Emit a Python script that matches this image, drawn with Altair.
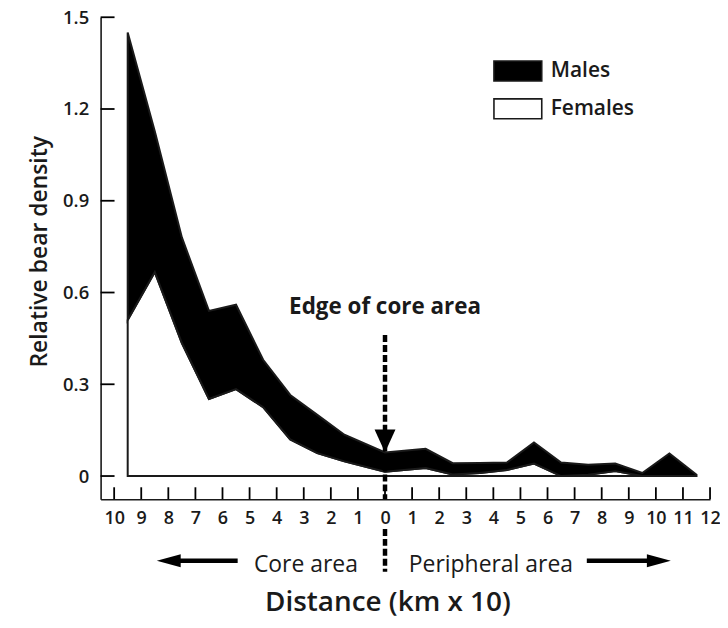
import altair as alt
import pandas as pd

# ---- data ----
distance = [-9.5, -8.5, -7.5, -6.5, -5.5, -4.5, -3.5, -2.5, -1.5, 0,
            1.5, 2.5, 3.5, 4.5, 5.5, 6.5, 7.5, 8.5, 9.5, 10.5, 11.5]
females = [0.51, 0.667, 0.435, 0.252, 0.284, 0.225, 0.12, 0.075, 0.048, 0.014,
           0.026, 0.005, 0.01, 0.02, 0.041, 0.0, 0.004, 0.016, 0.0, 0.0, 0.0]
males = [0.94, 0.46, 0.345, 0.288, 0.276, 0.155, 0.145, 0.125, 0.087, 0.063,
         0.063, 0.037, 0.033, 0.024, 0.069, 0.044, 0.033, 0.025, 0.01, 0.074, 0.004]

x_ticks = list(range(-10, 13))
y_ticks = [0, 0.3, 0.6, 0.9, 1.2, 1.5]
series = ["Males", "Females"]
series_fill = ["black", "white"]
stack_rank = {"Females": 0, "Males": 1}
edge_label = "Edge of core area"
core_label = "Core area"
periph_label = "Peripheral area"

# one table for every layer (each layer filters its own rows)
rows = []
for d, f, m in zip(distance, females, males):
    rows.append({"kind": "area", "distance": d, "sex": "Females", "density": f, "rank": stack_rank["Females"]})
    rows.append({"kind": "area", "distance": d, "sex": "Males", "density": m, "rank": stack_rank["Males"]})
rows.append({"kind": "edge", "label": edge_label})
rows.append({"kind": "core", "label": core_label})
rows.append({"kind": "periph", "label": periph_label})
df = pd.DataFrame(rows)

FONT = "Open Sans"
INK = "#1a1a1a"
XMIN, XMAX = -10.5, 12
YMIN, YMAX = -0.0758, 1.5
X_TICK_MID = 0.0195  # half of a ~12 px tick, in y units
Y_TICK_MID = 0.257   # half of a ~14 px tick, in x units
xs = alt.Scale(domain=[XMIN, XMAX], nice=False, zero=False)
ys = alt.Scale(domain=[YMIN, YMAX], nice=False, zero=False)

x_axis = alt.Axis(
    values=x_ticks, tickCount=23, labelExpr="abs(datum.value)", ticks=False, tickSize=0, grid=False,
    domainColor=INK, domainWidth=1.6, labelFont=FONT, labelFontSize=18, labelFontWeight=600,
    labelColor=INK, labelPadding=10, labelFlush=False, labelOverlap=False,
    title="Distance (km x 10)", titleFont=FONT, titleFontSize=28, titleFontWeight=600,
    titleColor=INK, titleX=288, titleY=112, titleAlign="center", titleBaseline="alphabetic",
)
y_axis = alt.Axis(
    values=y_ticks, labelExpr="datum.value == 0 ? '0' : format(datum.value, '.1f')",
    ticks=False, tickSize=0, grid=False, domainColor=INK, domainWidth=1.6,
    labelFont=FONT, labelFontSize=18.5, labelFontWeight=600, labelColor=INK, labelPadding=12,
    labelFlush=False, labelOverlap=False,
    title="Relative bear density", titleFont=FONT, titleFontSize=23, titleFontWeight=600,
    titleColor=INK, titleX=-54, titleY=235, titleAngle=-90, titleAlign="center",
    titleBaseline="alphabetic",
)

base = alt.Chart(df)

areas = base.transform_filter("datum.kind == 'area'").mark_area(
    stroke=INK, strokeWidth=2, strokeJoin="miter", interpolate="linear", opacity=1
).encode(
    x=alt.X("distance:Q", scale=xs, axis=x_axis),
    y=alt.Y("density:Q", stack="zero", scale=ys, axis=y_axis),
    color=alt.Color(
        "sex:N", title=None,
        scale=alt.Scale(domain=series, range=series_fill),
        legend=alt.Legend(
            orient="none", legendX=408, legendY=43, padding=0,
            symbolType="M-2.4,-1H2.4V1H-2.4Z", symbolSize=400,
            symbolStrokeColor=INK, symbolStrokeWidth=1.6, symbolOpacity=1,
            labelFont=FONT, labelFontSize=21, labelFontWeight=600, labelColor=INK,
            labelOffset=22, rowPadding=10,
        ),
    ),
    order=alt.Order("rank:Q"),
)

edge = base.transform_filter("datum.kind == 'edge'")
core = base.transform_filter("datum.kind == 'core'")
periph = base.transform_filter("datum.kind == 'periph'")

# inward-pointing axis ticks drawn as short line symbols
x_tick_layers = [
    edge.mark_point(shape="M0,-1L0,1", size=144, filled=False, stroke="black",
                    strokeWidth=1.8, opacity=1).encode(
        x=alt.datum(t), y=alt.datum(YMIN + X_TICK_MID)
    )
    for t in x_ticks
]
y_tick_layers = [
    edge.mark_point(shape="M-1,0L1,0", size=196, filled=False, stroke="black",
                    strokeWidth=1.8, opacity=1).encode(
        y=alt.datum(t), x=alt.datum(XMIN + Y_TICK_MID)
    )
    for t in y_ticks
]

# edge-of-core annotation
dash_in = edge.mark_rule(color="black", strokeWidth=4.5, strokeDash=[7, 3]).encode(
    x=alt.datum(0), y=alt.datum(0.461), y2=alt.datum(YMIN)
)
dash_out = edge.mark_rule(color="black", strokeWidth=4.5, strokeDash=[7, 3]).encode(
    x=alt.datum(0), y=alt.datum(-0.173), y2=alt.datum(-0.313)
)
arrow_down = edge.mark_point(
    shape="M-1,-1.1L1,-1.1L0,1.1Z", size=441, filled=True, color="black", opacity=1
).encode(x=alt.datum(0), y=alt.datum(0.1146))
edge_text = edge.mark_text(
    font=FONT, fontSize=22.5, fontWeight="bold", color=INK, align="center", baseline="alphabetic"
).encode(x=alt.datum(0), y=alt.datum(0.53), text="label:N")

# bottom direction arrows
left_line = core.mark_rule(color="black", strokeWidth=4.5).encode(
    x=alt.datum(-5.44), x2=alt.datum(-7.8), y=alt.datum(-0.277)
)
left_head = core.mark_point(
    shape="M1,-0.55L-1,0L1,0.55Z", size=576, filled=True, color="black", opacity=1
).encode(x=alt.datum(-7.985), y=alt.datum(-0.277))
right_line = periph.mark_rule(color="black", strokeWidth=4.5).encode(
    x=alt.datum(7.45), x2=alt.datum(9.7), y=alt.datum(-0.277)
)
right_head = periph.mark_point(
    shape="M-1,-0.55L1,0L-1,0.55Z", size=576, filled=True, color="black", opacity=1
).encode(x=alt.datum(10.11), y=alt.datum(-0.277))
core_text = core.mark_text(
    font=FONT, fontSize=23, fontWeight=500, color=INK, align="right", baseline="alphabetic"
).encode(x=alt.datum(-1.0), y=alt.datum(-0.3124), text="label:N")
periph_text = periph.mark_text(
    font=FONT, fontSize=23, fontWeight=500, color=INK, align="left", baseline="alphabetic"
).encode(x=alt.datum(0.88), y=alt.datum(-0.3124), text="label:N")

chart = alt.layer(
    areas, *x_tick_layers, *y_tick_layers, dash_in, dash_out, arrow_down, edge_text,
    left_line, left_head, right_line, right_head, core_text, periph_text,
).properties(
    width=612, height=484,
    autosize=alt.AutoSizeParams(type="none"),
    padding={"left": 93, "top": 8, "right": 10, "bottom": 118},
    background="white",
).configure_view(stroke=None)

chart.save("out.html", embed_options={"renderer": "svg", "actions": False})
